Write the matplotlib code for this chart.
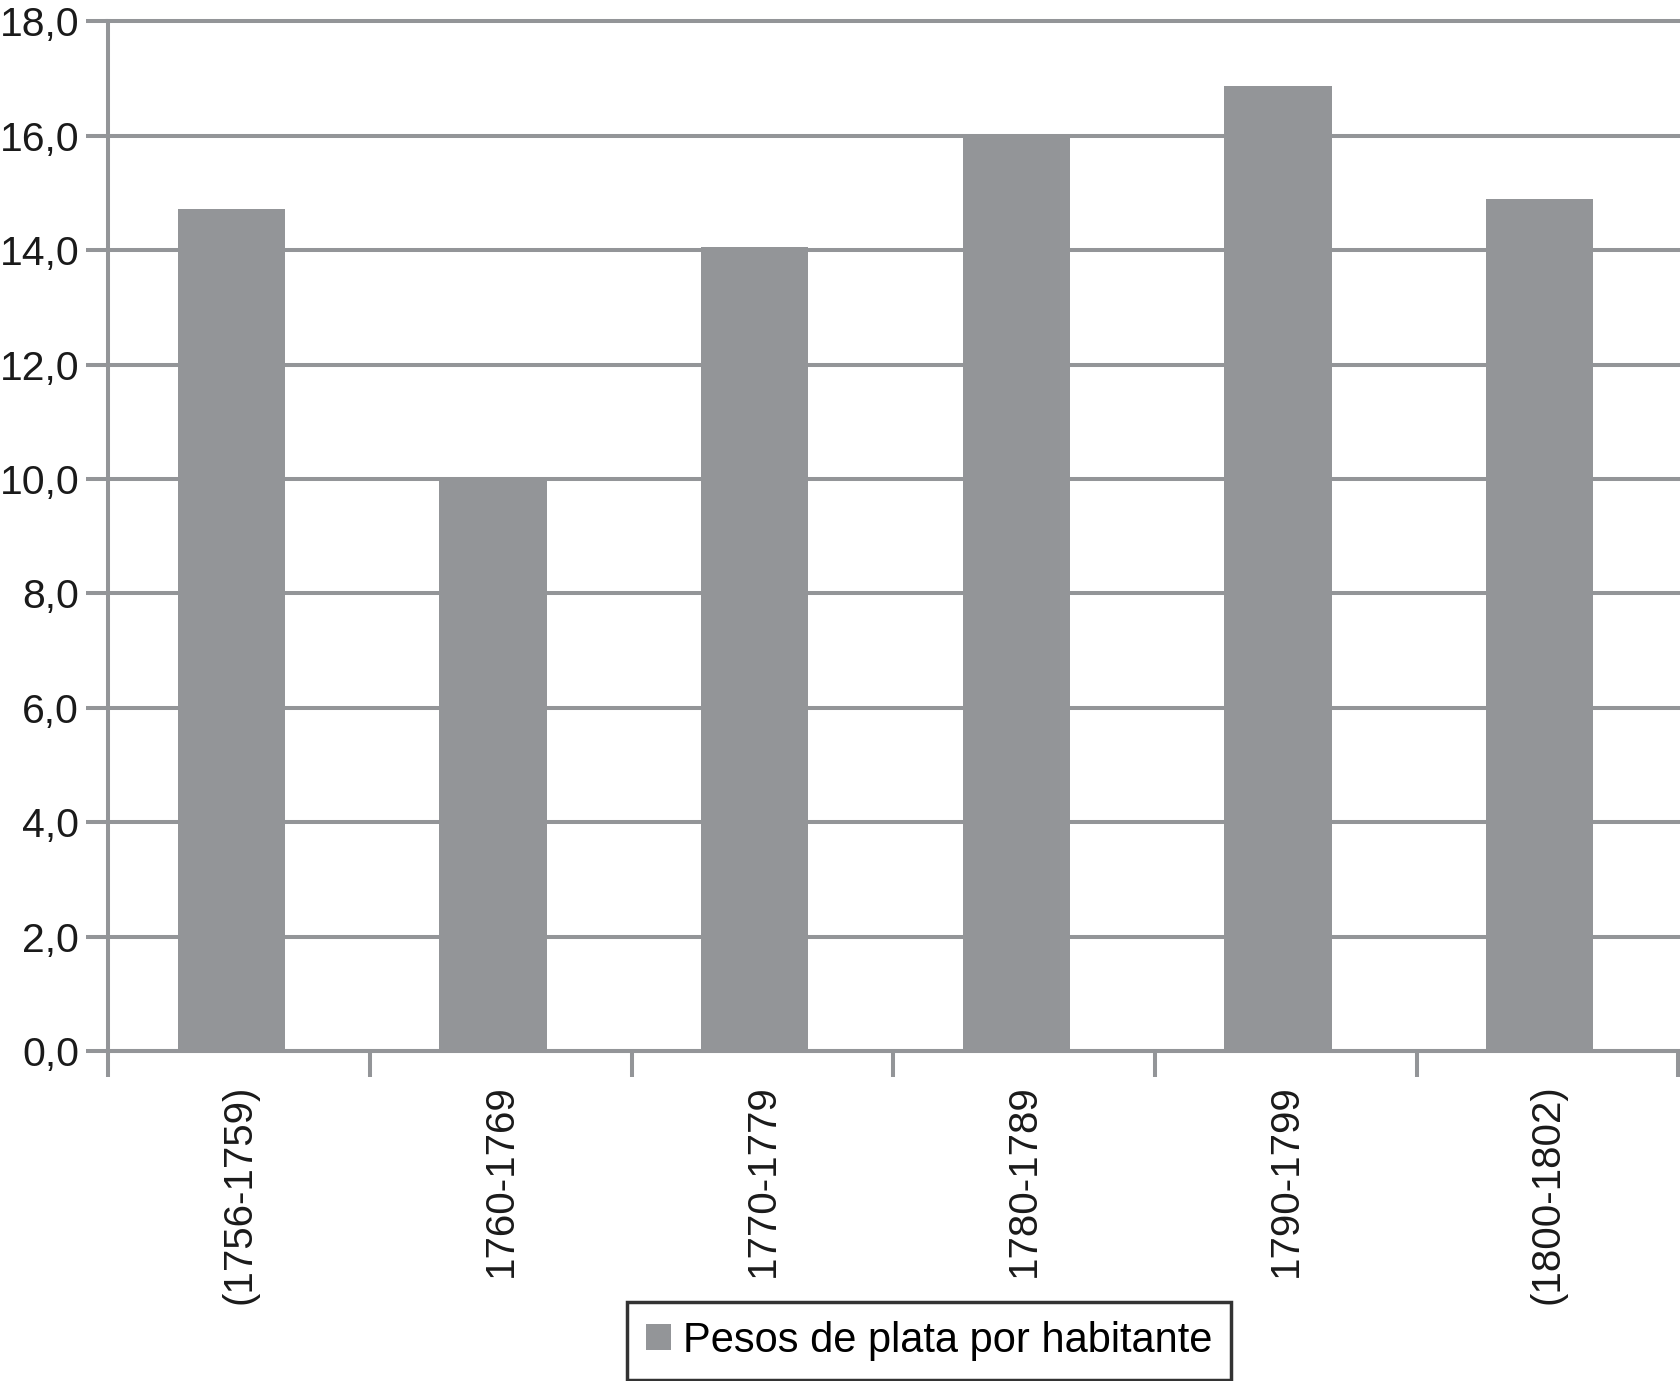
import matplotlib
matplotlib.use("Agg")
import matplotlib.pyplot as plt
from matplotlib.patches import Patch

# data
periods = ["(1756-1759)", "1760-1769", "1770-1779", "1780-1789", "1790-1799", "(1800-1802)"]
pesos = [14.72, 9.98, 14.05, 16.01, 16.87, 14.90]
y_ticks = [0, 2, 4, 6, 8, 10, 12, 14, 16, 18]
y_tick_labels = ["0,0", "2,0", "4,0", "6,0", "8,0", "10,0", "12,0", "14,0", "16,0", "18,0"]
series_name = "Pesos de plata por habitante"

gray = "#939598"
plt.rcParams["font.family"] = ["Liberation Sans", "DejaVu Sans"]

fig = plt.figure(figsize=(16.8, 13.81), dpi=100)
ax = fig.add_axes([0.0645, 0.239, 0.9345, 0.7455])

x = list(range(len(periods)))
# bars sit a touch left of the category centre in the original
ax.bar([i - 0.03 for i in x], pesos, width=0.41, color=gray, zorder=2)

ax.set_xlim(-0.5, len(periods) - 0.5)
ax.set_ylim(0, 18)

ax.set_yticks(y_ticks)
ax.set_yticklabels(y_tick_labels, fontsize=29.5, color="#1a1a1a")
ax.tick_params(axis="y", length=16, width=2.9, color=gray, pad=5)

# category labels at centres, tick marks at category boundaries
ax.set_xticks(x)
ax.set_xticklabels(periods, rotation=90, fontsize=29, color="#1a1a1a")
ax.set_xticks([i - 0.5 for i in range(len(periods) + 1)], minor=True)
ax.tick_params(axis="x", which="major", length=0, pad=24)
ax.tick_params(axis="x", which="minor", length=19, width=2.9, color=gray)

ax.yaxis.grid(True, color=gray, linewidth=2.9, zorder=1)
ax.set_axisbelow(True)
for line in ax.get_ygridlines():
    line.set_clip_on(False)

for side in ["top", "right"]:
    ax.spines[side].set_visible(False)
for side in ["left", "bottom"]:
    ax.spines[side].set_color(gray)
    ax.spines[side].set_linewidth(2.9)
    ax.spines[side].set_zorder(3)

leg = fig.legend(handles=[Patch(facecolor=gray, edgecolor="none", label=series_name)],
                 loc="lower center", bbox_to_anchor=(0.553, 0.001), fontsize=30,
                 frameon=True, fancybox=False, edgecolor="black",
                 handlelength=0.6, handleheight=0.6, handletextpad=0.3,
                 borderpad=0.45, borderaxespad=0)
leg.get_frame().set_linewidth(2.5)

fig.savefig("out.png", dpi=100, facecolor="white")
